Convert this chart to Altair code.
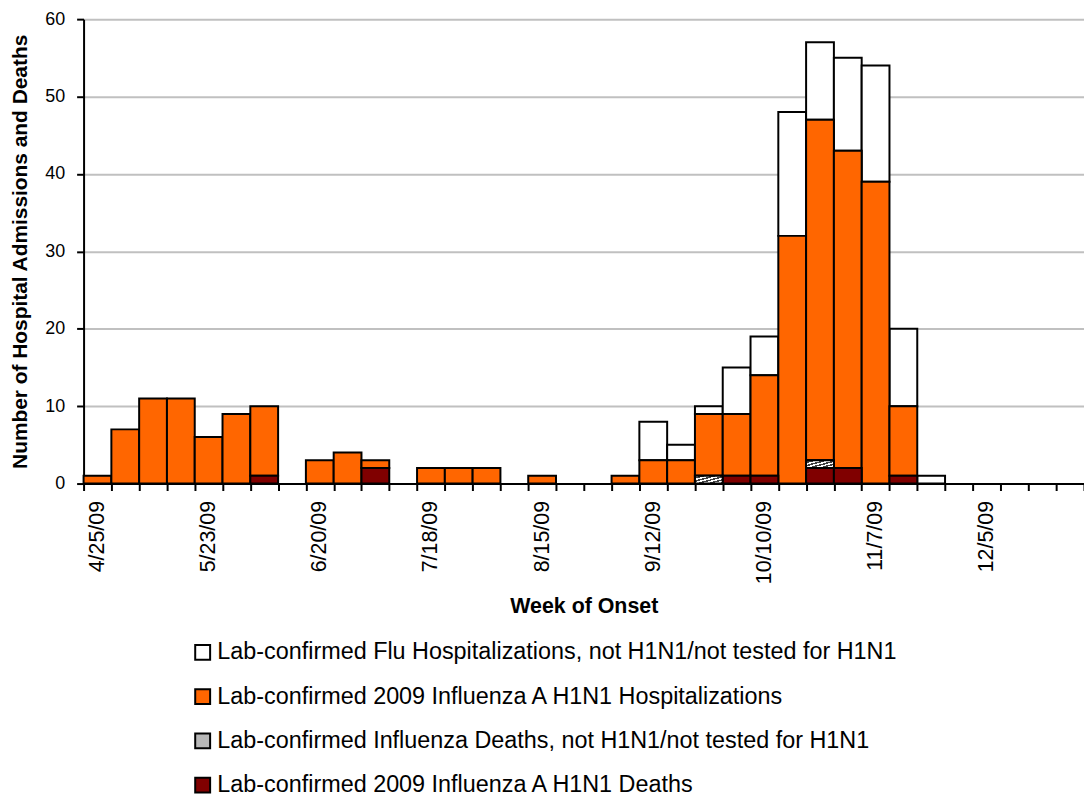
import altair as alt
import pandas as pd

weeks = ["4/25/09", "5/2/09", "5/9/09", "5/16/09", "5/23/09", "5/30/09", "6/6/09", "6/13/09",
         "6/20/09", "6/27/09", "7/4/09", "7/11/09", "7/18/09", "7/25/09", "8/1/09", "8/8/09",
         "8/15/09", "8/22/09", "8/29/09", "9/5/09", "9/12/09", "9/19/09", "9/26/09", "10/3/09",
         "10/10/09", "10/17/09", "10/24/09", "10/31/09", "11/7/09", "11/14/09", "11/21/09",
         "11/28/09", "12/5/09", "12/12/09", "12/19/09", "12/26/09"]
tick_labels = ["4/25/09", "5/23/09", "6/20/09", "7/18/09", "8/15/09", "9/12/09",
               "10/10/09", "11/7/09", "12/5/09"]

# stacked segment heights, bottom to top
h1n1_deaths = [0, 0, 0, 0, 0, 0, 1, 0, 0, 0, 2, 0, 0, 0, 0, 0, 0, 0,
               0, 0, 0, 0, 0, 1, 1, 0, 2, 2, 0, 1, 0, 0, 0, 0, 0, 0]
other_deaths = [0, 0, 0, 0, 0, 0, 0, 0, 0, 0, 0, 0, 0, 0, 0, 0, 0, 0,
                0, 0, 0, 0, 1, 0, 0, 0, 1, 0, 0, 0, 0, 0, 0, 0, 0, 0]
h1n1_hosp = [1, 7, 11, 11, 6, 9, 9, 0, 3, 4, 1, 0, 2, 2, 2, 0, 1, 0,
             0, 1, 3, 3, 8, 8, 13, 32, 44, 41, 39, 9, 0, 0, 0, 0, 0, 0]
other_hosp = [0, 0, 0, 0, 0, 0, 0, 0, 0, 0, 0, 0, 0, 0, 0, 0, 0, 0,
              0, 0, 5, 2, 1, 6, 5, 16, 10, 12, 15, 10, 1, 0, 0, 0, 0, 0]

series_names = [
    "Lab-confirmed Flu Hospitalizations, not H1N1/not tested for H1N1",
    "Lab-confirmed 2009 Influenza A H1N1 Hospitalizations",
    "Lab-confirmed Influenza Deaths, not H1N1/not tested for H1N1",
    "Lab-confirmed 2009 Influenza A H1N1 Deaths",
]
series_colors = ["#FFFFFF", "#FF6600", "#B8B8B8", "#800000"]
stack_order = {series_names[3]: 0, series_names[2]: 1, series_names[1]: 2, series_names[0]: 3}

rows = []
for name, vals in zip(series_names, [other_hosp, h1n1_hosp, other_deaths, h1n1_deaths]):
    for w, v in zip(weeks, vals):
        rows.append({"week": w, "series": name, "value": v, "order": stack_order[name]})
df = pd.DataFrame(rows)

FONT = "Liberation Sans"

x_enc = alt.X("week:N", sort=weeks,
              scale=alt.Scale(domain=weeks, paddingInner=0, paddingOuter=0),
              axis=alt.Axis(title="Week of Onset", labelAngle=270, labelFontSize=21.5,
                            labelExpr="indexof(" + str(tick_labels) + ", datum.value) >= 0 ? datum.value : ''",
                            labelPadding=10, tickBand="extent", tickSize=7, tickWidth=2,
                            tickColor="black", domainColor="black", domainWidth=2,
                            titleFontSize=21.5, titleFontWeight="bold", titlePadding=12,
                            labelColor="black", titleColor="black", labelOverlap=False))

base = alt.Chart(df).transform_filter("datum.value > 0").transform_stack(
    stack="value", groupby=["week"], as_=["y0", "y1"],
    sort=[alt.SortField("order", order="ascending")])

y_enc = alt.Y("y0:Q", scale=alt.Scale(domain=[0, 60]),
              axis=alt.Axis(title="Number of Hospital Admissions and Deaths",
                            values=[0, 10, 20, 30, 40, 50, 60], labelFontSize=18,
                            labelPadding=12, tickSize=7, tickWidth=2, tickColor="black",
                            domainColor="black", domainWidth=2, gridColor="#C0C0C0",
                            gridWidth=2, titleFontSize=21, titleFontWeight="bold",
                            titlePadding=14, labelColor="black", titleColor="black"))

bars = base.mark_bar(stroke="black", strokeWidth=2).encode(
    x=x_enc,
    y=y_enc,
    y2="y1:Q",
    color=alt.Color("series:N",
                    scale=alt.Scale(domain=series_names, range=series_colors),
                    legend=alt.Legend(title=None, orient="none", legendX=108, legendY=625,
                                      direction="vertical", symbolType="square",
                                      symbolSize=225, symbolStrokeColor="black",
                                      symbolStrokeWidth=2, labelFontSize=23.5,
                                      labelFont=FONT, labelColor="black", labelOffset=3,
                                      rowPadding=19.5, labelLimit=1000)),
)

hatch_fill = {
    "gradient": "linear", "x1": 0, "y1": 0, "x2": 1, "y2": 1,
    "stops": [
        {"offset": 0.0, "color": "#FFFFFF"}, {"offset": 0.1, "color": "#FFFFFF"},
        {"offset": 0.1, "color": "#404040"}, {"offset": 0.2, "color": "#404040"},
        {"offset": 0.2, "color": "#FFFFFF"}, {"offset": 0.3, "color": "#FFFFFF"},
        {"offset": 0.3, "color": "#404040"}, {"offset": 0.4, "color": "#404040"},
        {"offset": 0.4, "color": "#FFFFFF"}, {"offset": 0.5, "color": "#FFFFFF"},
        {"offset": 0.5, "color": "#404040"}, {"offset": 0.6, "color": "#404040"},
        {"offset": 0.6, "color": "#FFFFFF"}, {"offset": 0.7, "color": "#FFFFFF"},
        {"offset": 0.7, "color": "#404040"}, {"offset": 0.8, "color": "#404040"},
        {"offset": 0.8, "color": "#FFFFFF"}, {"offset": 0.9, "color": "#FFFFFF"},
        {"offset": 0.9, "color": "#404040"}, {"offset": 1.0, "color": "#404040"},
    ],
}

hatch = base.transform_filter(
    alt.datum.series == series_names[2]
).mark_bar(fill=hatch_fill, stroke="black", strokeWidth=2).encode(
    x=alt.X("week:N", sort=weeks), y="y0:Q", y2="y1:Q")

chart = alt.layer(bars, hatch).properties(
    width=1006, height=467,
    autosize=alt.AutoSizeParams(type="none"),
    padding={"left": 76, "top": 9, "right": 0, "bottom": 316},
    background="white",
).configure_view(stroke=None).configure_axis(
    labelFont=FONT, titleFont=FONT
)

chart.save("out.html", embed_options={"renderer": "svg", "actions": False})
